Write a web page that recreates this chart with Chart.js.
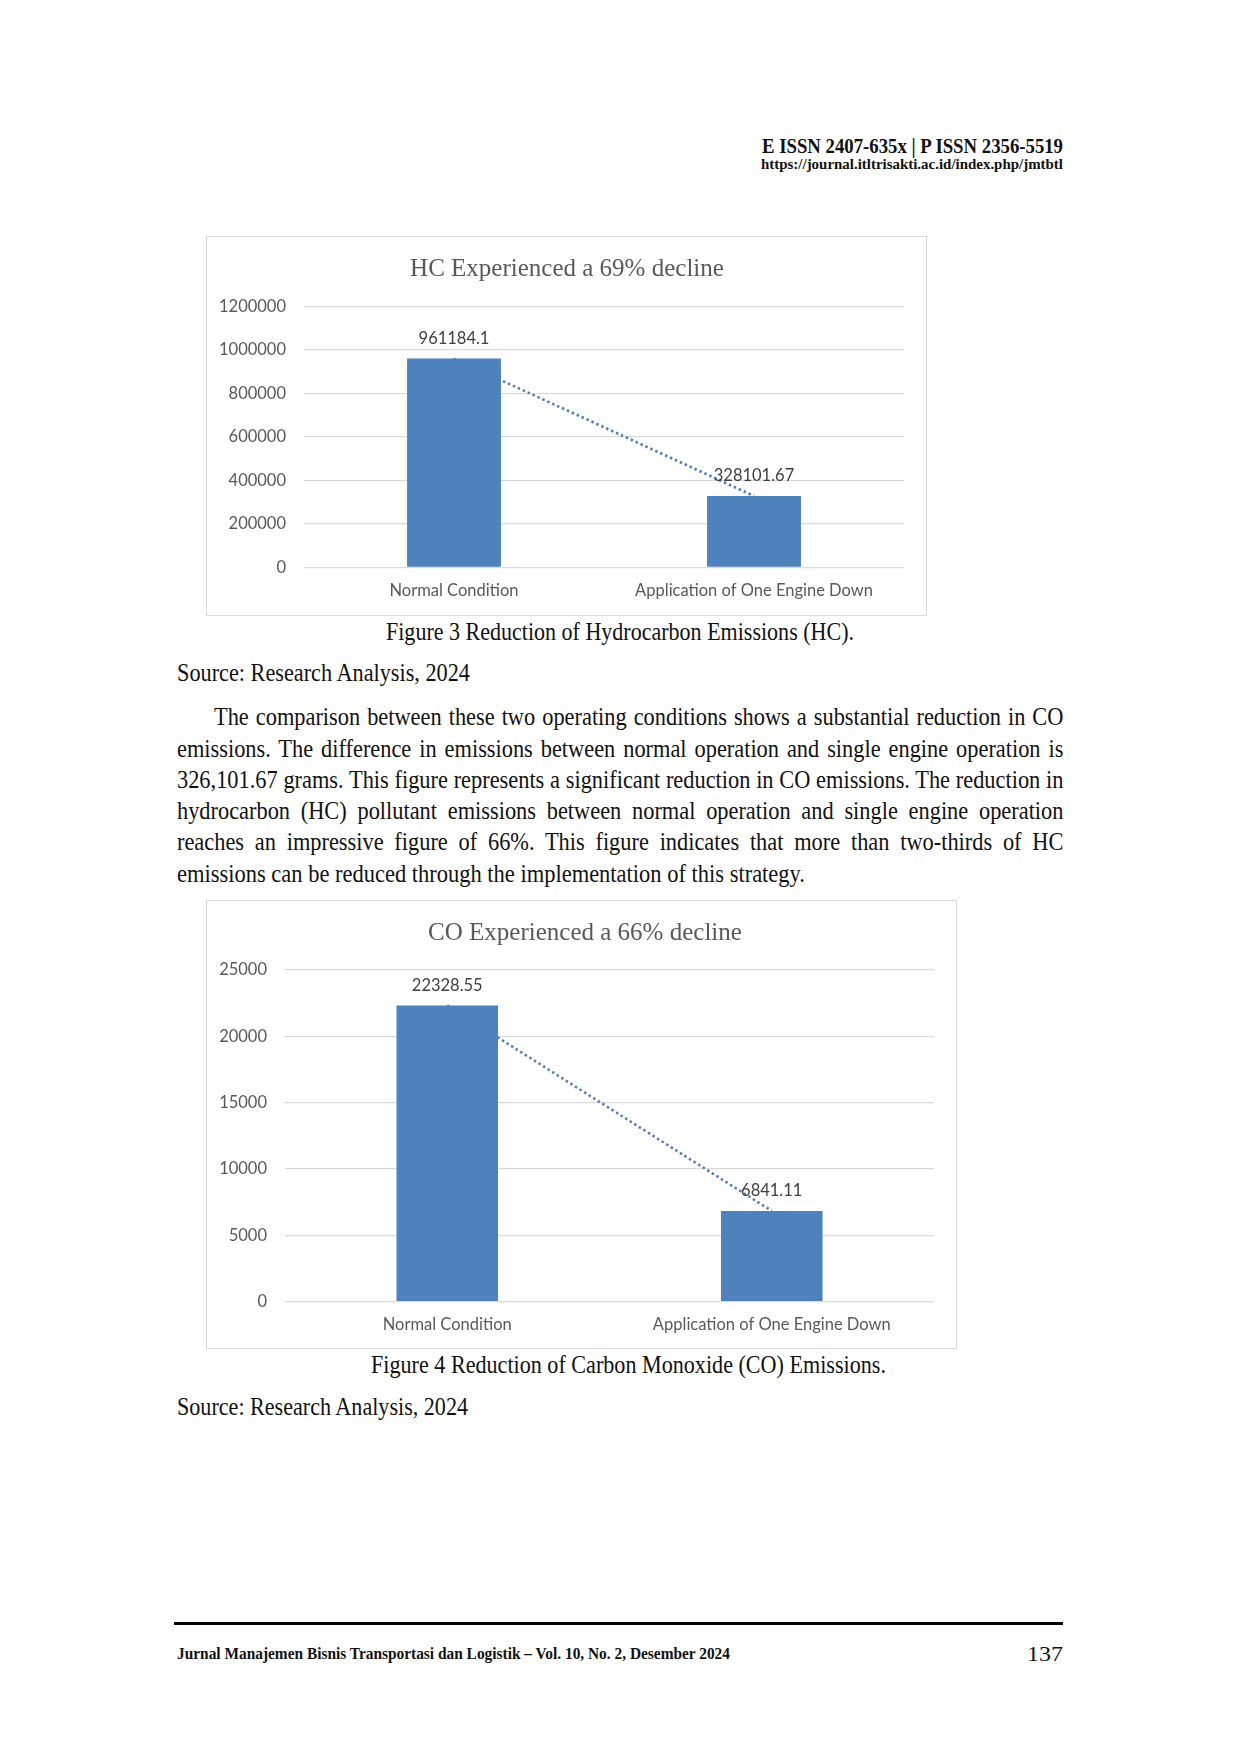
<!DOCTYPE html>
<html>
<head>
<meta charset="utf-8">
<script src="https://cdn.jsdelivr.net/npm/chart.js@4.4.1/dist/chart.umd.min.js"></script>
<style>
  html, body { margin: 0; padding: 0; background: #fff; }
  body {
    width: 1240px; height: 1754px; position: relative; overflow: hidden;
    font-family: "Liberation Serif", "Times New Roman", serif; color: #111;
  }
  .box { position: absolute; border: 1px solid #d9d9d9; background: #fff; }
  .box canvas { display: block; }
  .t { position: absolute; white-space: nowrap; line-height: 1; transform-origin: 0 0; }
  .rule { position: absolute; background: #000; }
</style>
</head>
<body>

<div class="box" style="left:206px;top:236px;width:719px;height:378px">
  <canvas id="hcChart" width="719" height="378"></canvas>
</div>

<div class="box" style="left:206px;top:900px;width:749px;height:447px">
  <canvas id="coChart" width="749" height="447"></canvas>
</div>

<div class="rule" style="left:174px;top:1622px;width:889px;height:3px"></div>

<script>
// chart data
const categories = ["Normal Condition", "Application of One Engine Down"];
const hcValues = [961184.1, 328101.67];
const coValues = [22328.55, 6841.11];
const hcTickValues = [0, 200000, 400000, 600000, 800000, 1000000, 1200000];
const coTickValues = [0, 5000, 10000, 15000, 20000, 25000];
const hcTitle = "HC Experienced a 69% decline";
const coTitle = "CO Experienced a 66% decline";

const barColor = "#4f81bd";
const trendColor = "#4a7ebb";
const axisFont = { family: "Lato", size: 16.5 };

// value above each bar + the chart heading
const valueLabels = {
  id: "valueLabels",
  afterDatasetsDraw(chart, args, opts) {
    const meta = chart.getDatasetMeta(0);
    const c = chart.ctx;
    c.save();
    c.font = "16.5px Lato";
    c.fillStyle = "#404040";
    c.textAlign = "center";
    c.textBaseline = "middle";
    meta.data.forEach((bar, i) => {
      c.fillText(String(chart.data.datasets[0].data[i]), bar.x, bar.y - 20);
    });
    // heading
    c.font = "25px 'Liberation Serif'";
    c.fillStyle = "#595959";
    c.textBaseline = "alphabetic";
    c.fillText(opts.text, opts.x, opts.y);
    c.restore();
  },
};

function makeChart(id, values, tickValues, title, pad) {
  const ctx = document.getElementById(id).getContext("2d");
  return new Chart(ctx, {
    type: "bar",
    data: {
      labels: categories,
      datasets: [
        {
          type: "bar",
          data: values,
          backgroundColor: barColor,
          categoryPercentage: 1,
          barPercentage: 0.313,
          order: 1,
        },
        {
          type: "line",
          data: values,
          borderColor: trendColor,
          borderWidth: 2.6,
          borderDash: [2.4, 3],
          pointRadius: 0,
          fill: false,
          tension: 0,
          order: 2,
        },
      ],
    },
    options: {
      responsive: false,
      animation: false,
      layout: { padding: { left: 0, right: pad.right, top: pad.top, bottom: 0 } },
      plugins: {
        legend: { display: false },
        tooltip: { enabled: false },
        title: { display: false },
        valueLabels: { text: title, x: pad.titleX, y: 38.5 },
      },
      scales: {
        x: {
          grid: { display: false, drawTicks: false },
          border: { display: false },
          ticks: { color: "#595959", font: axisFont, padding: 13, maxRotation: 0, autoSkip: false },
          afterFit(scale) { scale.height = pad.xh; },
        },
        y: {
          min: tickValues[0],
          max: tickValues[tickValues.length - 1],
          afterBuildTicks(scale) {
            scale.ticks = tickValues.map((v) => ({ value: v }));
          },
          grid: { color: "#d9d9d9", lineWidth: 1.3, drawTicks: false },
          border: { display: false },
          ticks: {
            color: "#595959",
            font: axisFont,
            padding: 18,
            callback: (v) => String(v),
          },
          afterFit(scale) { scale.width = pad.yw; },
        },
      },
    },
    plugins: [valueLabels],
  });
}

makeChart("hcChart", hcValues, hcTickValues, hcTitle,
  { right: 22, top: 69.7, yw: 97, xh: 47.7, titleX: 360 });
makeChart("coChart", coValues, coTickValues, coTitle,
  { right: 22, top: 69, yw: 78, xh: 46.3, titleX: 378 });

// page text, squeezed horizontally to the widths of the printed page
function addText(str, o) {
  const d = document.createElement("div");
  d.className = "t";
  d.textContent = str;
  d.style.fontSize = o.fs + "px";
  if (o.bold) d.style.fontWeight = "bold";
  if (o.color) d.style.color = o.color;
  d.style.top = (o.base - 0.8375 * o.fs) + "px";
  document.body.appendChild(d);
  const nat = d.getBoundingClientRect().width;
  let s = o.w / nat;
  if (o.justify) {
    s = Math.min(0.86, s);
    d.style.whiteSpace = "normal";
    d.style.width = (o.w / s + 0.5) + "px";
    d.style.textAlign = "justify";
    d.style.textAlignLast = "justify";
  }
  d.style.left = o.x + "px";
  d.style.transform = "scaleX(" + s + ")";
}

addText("E ISSN 2407-635x | P ISSN 2356-5519", { x: 762, base: 153, fs: 20, bold: true, w: 301 });
addText("https://journal.itltrisakti.ac.id/index.php/jmtbtl", { x: 761, base: 170, fs: 14, bold: true, w: 302 });

addText("Figure 3 Reduction of Hydrocarbon Emissions (HC).", { x: 386, base: 641, fs: 26, w: 468 });
addText("Source: Research Analysis, 2024", { x: 177, base: 682, fs: 26, w: 293 });

const paraLines = [
  "The comparison between these two operating conditions shows a substantial reduction in CO",
  "emissions. The difference in emissions between normal operation and single engine operation is",
  "326,101.67 grams. This figure represents a significant reduction in CO emissions. The reduction in",
  "hydrocarbon (HC) pollutant emissions between normal operation and single engine operation",
  "reaches an impressive figure of 66%. This figure indicates that more than two-thirds of HC",
  "emissions can be reduced through the implementation of this strategy.",
];
paraLines.forEach((line, i) => {
  const base = 726 + i * 31.3;
  if (i === 0) addText(line, { x: 214, base, fs: 26, w: 849, justify: true });
  else if (i === paraLines.length - 1) addText(line, { x: 177, base, fs: 26, w: 628 });
  else addText(line, { x: 177, base, fs: 26, w: 886, justify: true });
});

addText("Figure 4 Reduction of Carbon Monoxide (CO) Emissions.", { x: 371, base: 1374, fs: 26, w: 515 });
addText("Source: Research Analysis, 2024", { x: 177, base: 1416, fs: 26, w: 291 });

addText("Jurnal Manajemen Bisnis Transportasi dan Logistik \u2013 Vol. 10, No. 2, Desember 2024",
  { x: 177, base: 1659, fs: 16, bold: true, w: 553 });
addText("137", { x: 1027, base: 1661, fs: 22, w: 36 });
</script>
</body>
</html>
